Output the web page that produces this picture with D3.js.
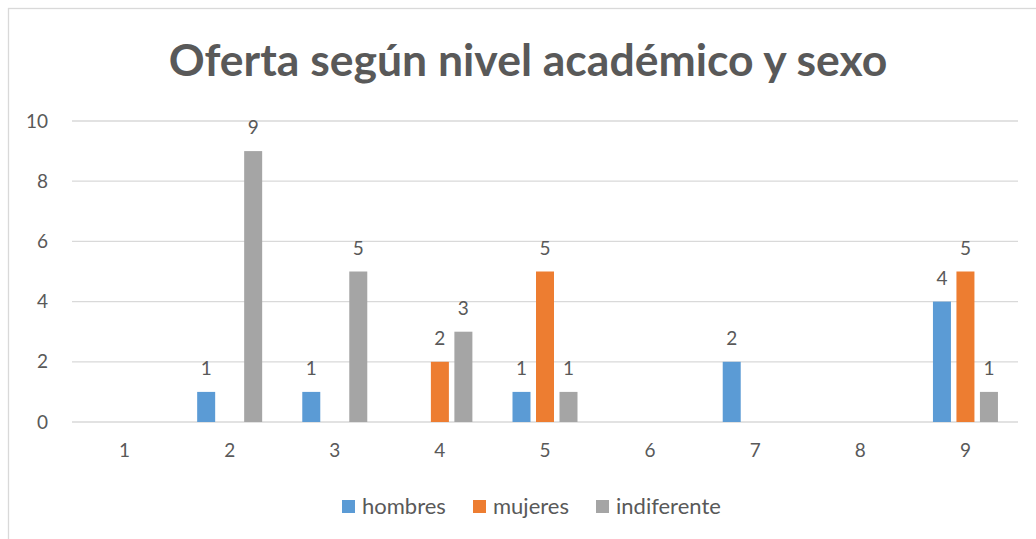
<!DOCTYPE html>
<html>
<head>
<meta charset="utf-8">
<script src="https://cdn.jsdelivr.net/npm/d3@7"></script>
<style>
  body { margin: 0; background: #fff; }
  text { font-family: Lato, "Open Sans", sans-serif; fill: #595959; }
</style>
</head>
<body>
<div id="chart"></div>
<script>
// data
var categories = ["1", "2", "3", "4", "5", "6", "7", "8", "9"];
var seriesNames = ["hombres", "mujeres", "indiferente"];
var hombres = [0, 1, 1, 0, 1, 0, 2, 0, 4];
var mujeres = [0, 0, 0, 2, 5, 0, 0, 0, 5];
var indiferente = [0, 9, 5, 3, 1, 0, 0, 0, 1];
var yTicks = [0, 2, 4, 6, 8, 10];
var colors = ["#5B9BD5", "#ED7D31", "#A5A5A5"];

var svgWidth = 1036;
var svgHeight = 539;

var margin = { top: 121, right: 18, bottom: 117, left: 72 };
var width = svgWidth - margin.left - margin.right;
var height = svgHeight - margin.top - margin.bottom;

var svg = d3.select("#chart")
  .append("svg")
  .attr("width", svgWidth)
  .attr("height", svgHeight);

// outer chart border (runs off the right/bottom edge)
svg.append("rect")
  .attr("x", 8.5)
  .attr("y", 8.5)
  .attr("width", 1040)
  .attr("height", 560)
  .attr("fill", "none")
  .attr("stroke", "#D9D9D9")
  .attr("stroke-width", 1.3);

svg.append("text")
  .attr("x", 528)
  .attr("y", 76)
  .attr("text-anchor", "middle")
  .attr("font-size", "44.5px")
  .attr("font-weight", "bold")
  .text("Oferta según nivel académico y sexo");

var chartGroup = svg.append("g")
  .attr("transform", `translate(${margin.left}, ${margin.top})`);

var table = categories.map(function(c, i) {
  return { cat: c, values: [hombres[i], mujeres[i], indiferente[i]] };
});

var x0 = d3.scaleBand()
  .domain(categories)
  .range([0, width])
  .padding(0);

var x1 = d3.scaleBand()
  .domain(seriesNames)
  .range([-32.5, 32.5])
  .paddingInner(0.234)
  .paddingOuter(0);

var y = d3.scaleLinear()
  .domain([0, 10])
  .range([height, 0]);

// gridlines
chartGroup.selectAll(".grid")
  .data(yTicks)
  .enter()
  .append("line")
  .attr("x1", 0)
  .attr("x2", width)
  .attr("y1", d => y(d))
  .attr("y2", d => y(d))
  .attr("stroke", "#D9D9D9")
  .attr("stroke-width", 1.3);

// y axis labels
var leftAxis = d3.axisLeft(y).tickValues(yTicks).tickSize(0).tickPadding(24);
var yAxis = chartGroup.append("g").call(leftAxis);
yAxis.select(".domain").remove();
yAxis.selectAll("text")
  .attr("font-size", "19px")
  .attr("fill", "#595959")
  .attr("font-family", "Lato, sans-serif");

// x axis labels
var bottomAxis = d3.axisBottom(x0).tickSize(0).tickPadding(22);
var xAxis = chartGroup.append("g")
  .attr("transform", `translate(0, ${height})`)
  .call(bottomAxis);
xAxis.select(".domain").remove();
xAxis.selectAll("text")
  .attr("font-size", "19px")
  .attr("fill", "#595959")
  .attr("font-family", "Lato, sans-serif");

// bars
var groups = chartGroup.selectAll(".cat")
  .data(table)
  .enter()
  .append("g")
  .attr("transform", d => `translate(${x0(d.cat) + x0.bandwidth() / 2}, 0)`);

groups.selectAll("rect")
  .data(d => d.values.map((v, j) => ({ name: seriesNames[j], value: v, idx: j })))
  .enter()
  .append("rect")
  .attr("x", d => x1(d.name))
  .attr("width", x1.bandwidth())
  .attr("y", d => y(d.value))
  .attr("height", d => height - y(d.value))
  .attr("fill", d => colors[d.idx]);

// data labels (zeros hidden)
groups.selectAll(".lbl")
  .data(d => d.values.map((v, j) => ({ name: seriesNames[j], value: v })).filter(d => d.value > 0))
  .enter()
  .append("text")
  .attr("x", d => x1(d.name) + x1.bandwidth() / 2)
  .attr("y", d => y(d.value) - 17)
  .attr("text-anchor", "middle")
  .attr("font-size", "19px")
  .attr("fill", "#404040")
  .text(d => d.value);

// legend
var legendX = [342, 473, 596];
var legend = svg.selectAll(".legend")
  .data(seriesNames)
  .enter()
  .append("g")
  .attr("transform", (d, i) => `translate(${legendX[i]}, 500)`);

legend.append("rect")
  .attr("width", 13)
  .attr("height", 13)
  .attr("fill", (d, i) => colors[i]);

legend.append("text")
  .attr("x", 20)
  .attr("y", 14)
  .attr("font-size", "22px")
  .text(d => d);
</script>
</body>
</html>
